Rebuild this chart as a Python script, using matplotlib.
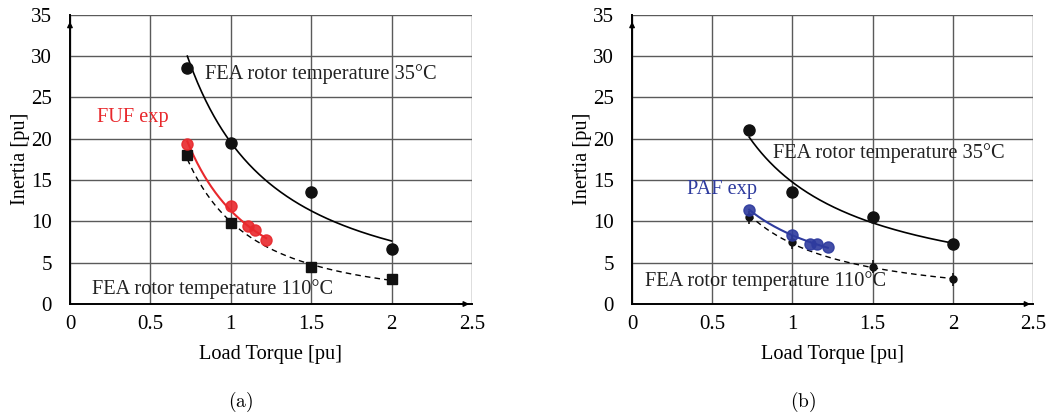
import numpy as np
import matplotlib.pyplot as plt

plt.rcParams['font.family'] = ['Liberation Serif', 'DejaVu Serif']
plt.rcParams['mathtext.fontset'] = 'cm'

# load torque [pu]
torque_fea = [0.73, 1.0, 1.5, 2.0]
torque_exp = [0.73, 1.0, 1.11, 1.15, 1.22]

# (a) FUF machine, inertia [pu]
fuf_fea35 = [28.5, 19.5, 13.5, 6.7]
fuf_fea110 = [18.0, 9.8, 4.5, 3.0]
fuf_exp = [19.3, 11.8, 9.4, 8.9, 7.7]

# (b) PAF machine, inertia [pu]
paf_fea35 = [21.0, 13.5, 10.5, 7.2]
paf_fea110 = [10.5, 7.5, 4.5, 3.0]
paf_exp = [11.4, 8.4, 7.3, 7.2, 6.9]

x_ticks = [0, 0.5, 1, 1.5, 2, 2.5]
x_ticklabels = ['0', '0.5', '1', '1.5', '2', '2.5']
y_ticks = [0, 5, 10, 15, 20, 25, 30, 35]

red = '#e8282c'
blue = '#2e3b9e'
txt = 14.7


def power_fit(x, y):
    # power trendline y = a * x^b
    b, ln_a = np.polyfit(np.log(x), np.log(y), 1)
    xs = np.linspace(min(x), max(x), 200)
    return xs, np.exp(ln_a) * xs ** b


def setup_axes(ax):
    ax.set_xlim(0, 2.5)
    ax.set_ylim(0, 35)
    ax.set_xticks(x_ticks)
    ax.set_xticklabels(x_ticklabels)
    ax.set_yticks(y_ticks)
    ax.tick_params(length=0, labelsize=15)
    ax.tick_params(axis='y', pad=13)
    ax.tick_params(axis='x', pad=8)
    ax.grid(True, color='#5a5a5a', lw=1)
    ax.set_axisbelow(True)
    for s in ['top', 'right']:
        ax.spines[s].set_visible(False)
    for s in ['left', 'bottom']:
        ax.spines[s].set_linewidth(1.4)
    ax.set_xlabel('Load Torque [pu]', fontsize=txt, va='center')
    ax.set_ylabel('Inertia [pu]', fontsize=txt, va='center')
    ax.xaxis.set_label_coords(0.5, -0.176)
    ax.yaxis.set_label_coords(-0.124, 0.5)
    ax.annotate('', xy=(0, 0.985), xytext=(0, 0.95), xycoords='axes fraction',
                arrowprops=dict(arrowstyle='-|>', color='black', lw=1, mutation_scale=8))
    ax.annotate('', xy=(1.0, 0), xytext=(0.96, 0), xycoords='axes fraction',
                arrowprops=dict(arrowstyle='-|>', color='black', lw=1, mutation_scale=8))


fig = plt.figure(figsize=(10.57, 4.18), dpi=100)
ax1 = fig.add_axes([0.0662, 0.2727, 0.3803, 0.6926])
ax2 = fig.add_axes([0.598, 0.2727, 0.3794, 0.6926])

# ---- (a) FUF
setup_axes(ax1)
xs, ys = power_fit(torque_fea, fuf_fea35)
ax1.plot(xs, ys, color='black', lw=1.2)
xs, ys = power_fit(torque_fea, fuf_fea110)
ax1.plot(xs, ys, color='black', lw=1, ls=(0, (4, 3)))
xs, ys = power_fit(torque_exp, fuf_exp)
ax1.plot(xs, ys, color=red, lw=1.5)
ax1.errorbar(torque_fea, fuf_fea35, yerr=0.6, fmt='o', color='#111111', ms=8, elinewidth=1, capsize=0, zorder=4)
ax1.plot(torque_fea, fuf_fea110, 's', color='#111111', ms=7, zorder=4)
ax1.plot(torque_exp, fuf_exp, 'o', color=red, ms=8, alpha=0.9, zorder=5)
ax1.text(0.84, 27.8, 'FEA rotor temperature 35°C', fontsize=txt, va='center', color='#222222')
ax1.text(0.17, 22.6, 'FUF exp', fontsize=txt, va='center', color=red)
ax1.text(0.14, 1.8, 'FEA rotor temperature 110°C', fontsize=txt, va='center', color='#222222')

# ---- (b) PAF
setup_axes(ax2)
xs, ys = power_fit(torque_fea, paf_fea35)
ax2.plot(xs, ys, color='black', lw=1.2)
xs, ys = power_fit(torque_fea, paf_fea110)
ax2.plot(xs, ys, color='black', lw=1, ls=(0, (4, 3)))
xs, ys = power_fit(torque_exp, paf_exp)
ax2.plot(xs, ys, color=blue, lw=1.5)
ax2.errorbar(torque_fea, paf_fea35, yerr=0.6, fmt='o', color='#111111', ms=8, elinewidth=1, capsize=0, zorder=4)
ax2.errorbar(torque_fea, paf_fea110, yerr=0.8, fmt='o', color='#111111', ms=5, elinewidth=1.2, capsize=0, zorder=4)
ax2.plot(torque_exp, paf_exp, 'o', color=blue, ms=8, alpha=0.9, zorder=5)
ax2.text(0.88, 18.3, 'FEA rotor temperature 35°C', fontsize=txt, va='center', color='#222222')
ax2.text(0.34, 13.9, 'PAF exp', fontsize=txt, va='center', color=blue)
ax2.text(0.08, 2.8, 'FEA rotor temperature 110°C', fontsize=txt, va='center', color='#222222')

fig.text(241 / 1057, 1 - 402 / 418, r'$\mathrm{(a)}$', fontsize=14, ha='center', va='center')
fig.text(803 / 1057, 1 - 402 / 418, r'$\mathrm{(b)}$', fontsize=14, ha='center', va='center')

fig.savefig('out.png', dpi=100)
